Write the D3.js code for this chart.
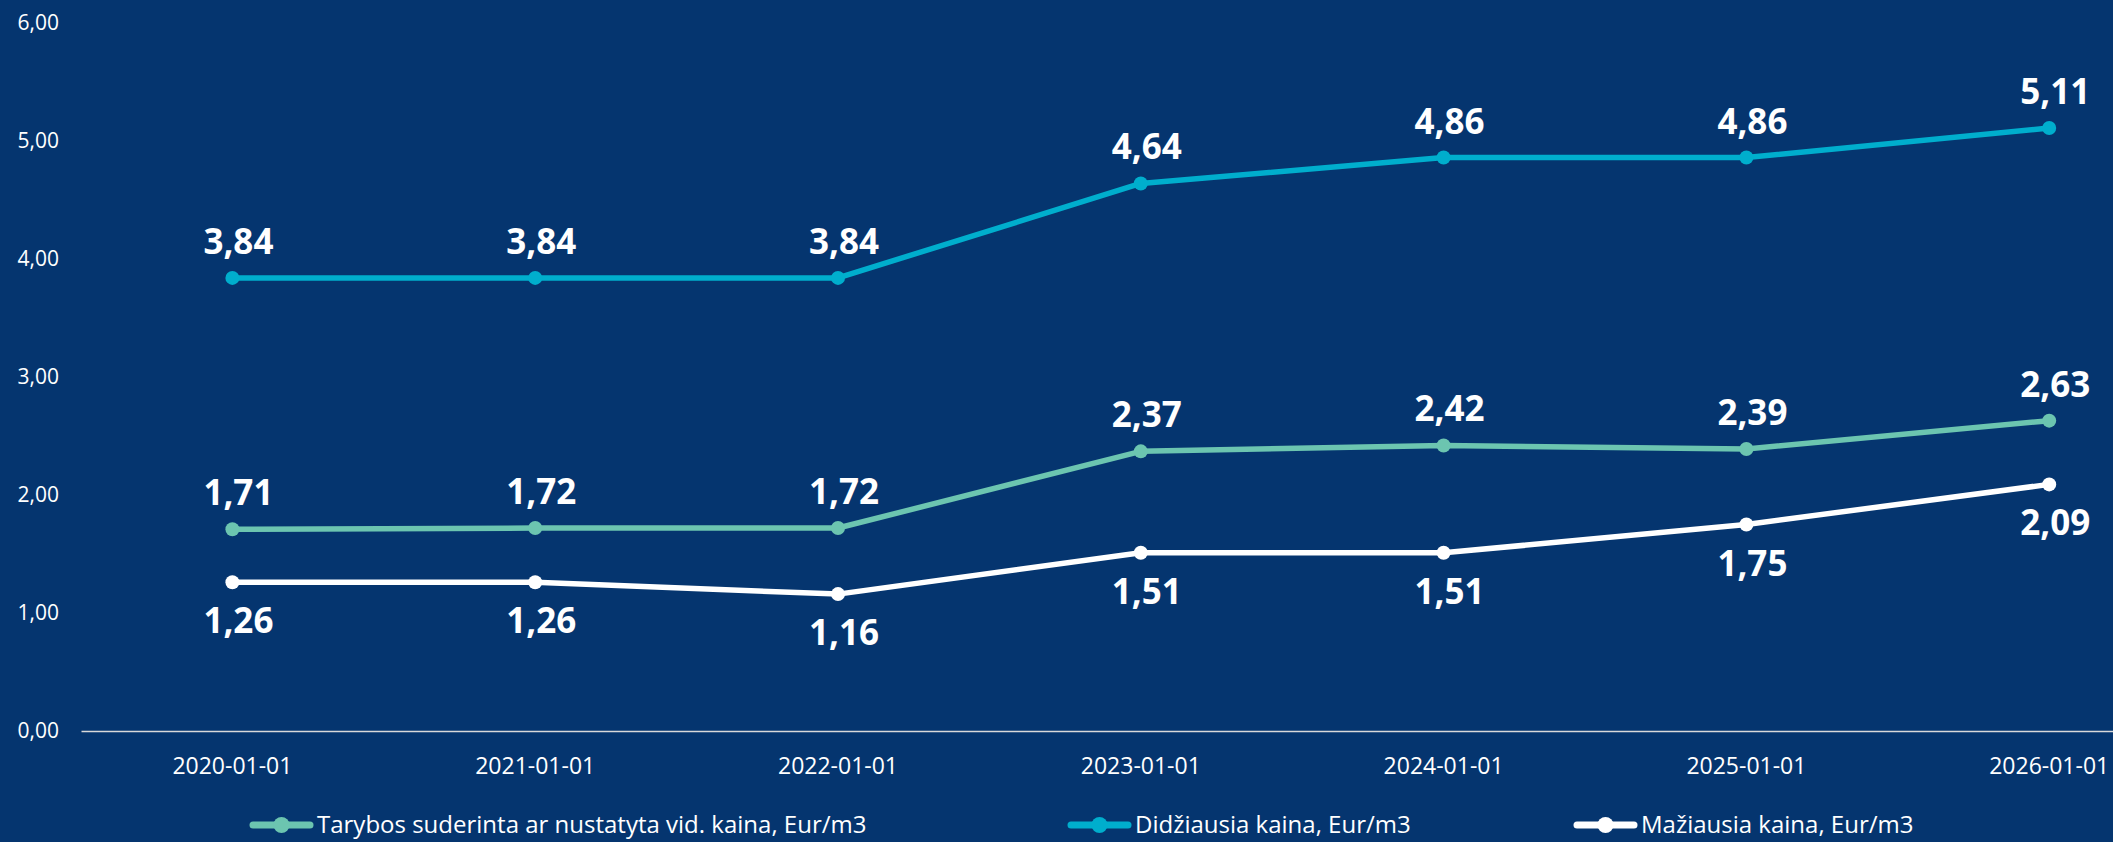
<!DOCTYPE html>
<html>
<head>
<meta charset="utf-8">
<script src="https://cdn.jsdelivr.net/npm/d3@7"></script>
<style>
  html, body { margin: 0; padding: 0; background: #05356f; overflow: hidden; }
  svg { display: block; font-family: "Open Sans", sans-serif; }
</style>
</head>
<body>
<div id="chart"></div>
<script>
// Data
const years = ["2020-01-01", "2021-01-01", "2022-01-01", "2023-01-01", "2024-01-01", "2025-01-01", "2026-01-01"];
const avgPrice = [1.71, 1.72, 1.72, 2.37, 2.42, 2.39, 2.63];
const maxPrice = [3.84, 3.84, 3.84, 4.64, 4.86, 4.86, 5.11];
const minPrice = [1.26, 1.26, 1.16, 1.51, 1.51, 1.75, 2.09];
const yTicks = [0, 1, 2, 3, 4, 5, 6];
const seriesNames = [
    "Tarybos suderinta ar nustatyta vid. kaina, Eur/m3",
    "Didžiausia kaina, Eur/m3",
    "Mažiausia kaina, Eur/m3"
];

const W = 2113, H = 842;
const bg = "#05356f";

// series setup: colour and label side
const series = [
    { name: seriesNames[0], values: avgPrice, color: "#6cc5b0", below: false },
    { name: seriesNames[1], values: maxPrice, color: "#00aecd", below: false },
    { name: seriesNames[2], values: minPrice, color: "#ffffff", below: true }
];

const lt = d3.formatLocale({ decimal: ",", thousands: " ", grouping: [3], currency: ["", "€"] });
const fmt = lt.format(".2f");

const svg = d3.select("#chart")
    .append("svg")
    .attr("width", W)
    .attr("height", H);

svg.append("rect").attr("width", W).attr("height", H).attr("fill", bg);

// Scales
const step = 302.8;
const x = d3.scaleBand().domain(years).range([81, 81 + step * years.length]);
const y = d3.scaleLinear().domain([0, 6]).range([731, 23]);
const cx = d => x(d) + x.bandwidth() / 2;

// y axis
const yAxis = svg.append("g")
    .attr("transform", "translate(59,0)")
    .call(d3.axisLeft(y).tickValues(yTicks).tickFormat(fmt).tickSize(0).tickPadding(0));
yAxis.select(".domain").remove();
yAxis.selectAll("text")
    .attr("fill", "#ffffff")
    .style("font-size", "21px")
    .style("font-family", "Open Sans");

// x axis
const xAxis = svg.append("g")
    .attr("transform", "translate(0," + y(0) + ")")
    .call(d3.axisBottom(x).tickSize(0).tickPadding(27));
xAxis.select(".domain").attr("stroke", "#d9d9d9").attr("stroke-width", 1.5);
xAxis.selectAll("text")
    .attr("fill", "#ffffff")
    .style("font-size", "23px")
    .style("font-family", "Open Sans");

// Lines, markers, labels
const line = d3.line()
    .x((d, i) => cx(years[i]))
    .y(d => y(d));

series.forEach(s => {
    const g = svg.append("g");

    g.append("path")
        .datum(s.values)
        .attr("d", line)
        .attr("fill", "none")
        .attr("stroke", s.color)
        .attr("stroke-width", 5.5)
        .attr("stroke-linejoin", "round");

    g.selectAll("circle")
        .data(s.values)
        .enter().append("circle")
        .attr("cx", (d, i) => cx(years[i]))
        .attr("cy", d => y(d))
        .attr("r", 7)
        .attr("fill", s.color);

    g.selectAll("text")
        .data(s.values)
        .enter().append("text")
        .attr("x", (d, i) => cx(years[i]) + 6)
        .attr("y", d => y(d) + (s.below ? 51 : -24))
        .attr("text-anchor", "middle")
        .attr("fill", "#ffffff")
        .style("font-size", "35px")
        .style("font-weight", "bold")
        .text(d => fmt(d));
});

// Legend
const legendX = [253, 1071, 1577];
const legend = svg.append("g").attr("transform", "translate(0,825)");
series.forEach((s, i) => {
    const item = legend.append("g").attr("transform", "translate(" + legendX[i] + ",0)");
    item.append("line")
        .attr("x1", 0).attr("x2", 57)
        .attr("stroke", s.color)
        .attr("stroke-width", 7)
        .attr("stroke-linecap", "round");
    item.append("circle")
        .attr("cx", 28.5)
        .attr("r", 8)
        .attr("fill", s.color);
    item.append("text")
        .attr("x", 64)
        .attr("dy", "0.35em")
        .attr("fill", "#ffffff")
        .style("font-size", "24px")
        .text(s.name);
});
</script>
</body>
</html>
